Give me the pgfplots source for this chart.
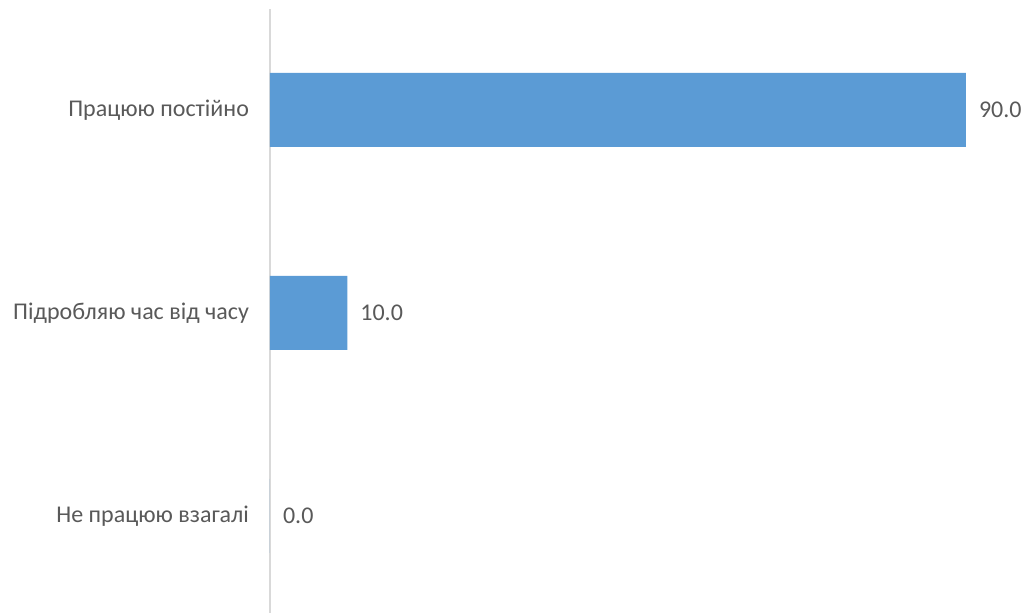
\documentclass[border=0pt]{standalone}
\usepackage{fontspec}
\setmainfont{Carlito}
\usepackage{pgfplots}
\pgfplotsset{compat=1.18}
\definecolor{barblue}{HTML}{5B9BD5}
\definecolor{txt}{HTML}{595959}
\definecolor{axgray}{HTML}{D9D9D9}
\begin{document}
\begin{tikzpicture}
\useasboundingbox (-135pt,0pt) rectangle (379.5pt,306.5pt);
\begin{axis}[
  scale only axis,
  width=348pt, height=302pt,
  xmin=0, xmax=90,
  ymin=-0.478, ymax=2.4975,
  xbar, bar width=37pt,
  axis x line=none,
  axis y line*=left,
  y axis line style={axgray, line width=0.7pt},
  ytick={0,1,2},
  yticklabels={Не працюю взагалі, Підробляю час від часу, Працюю постійно},
  major tick length=0pt,
  yticklabel style={font=\fontsize{12}{14}\selectfont, text=txt, xshift=-7pt},
  clip=false,
  nodes near coords,
  nodes near coords style={font=\fontsize{12}{14}\selectfont, text=txt, anchor=west, xshift=3pt,
    /pgf/number format/.cd, fixed, fixed zerofill, precision=1},
  /pgf/number format/assume math mode=true,
]
\addplot[fill=barblue, draw=none] coordinates {(0,0) (10,1) (90,2)};
\end{axis}
\end{tikzpicture}
\end{document}
